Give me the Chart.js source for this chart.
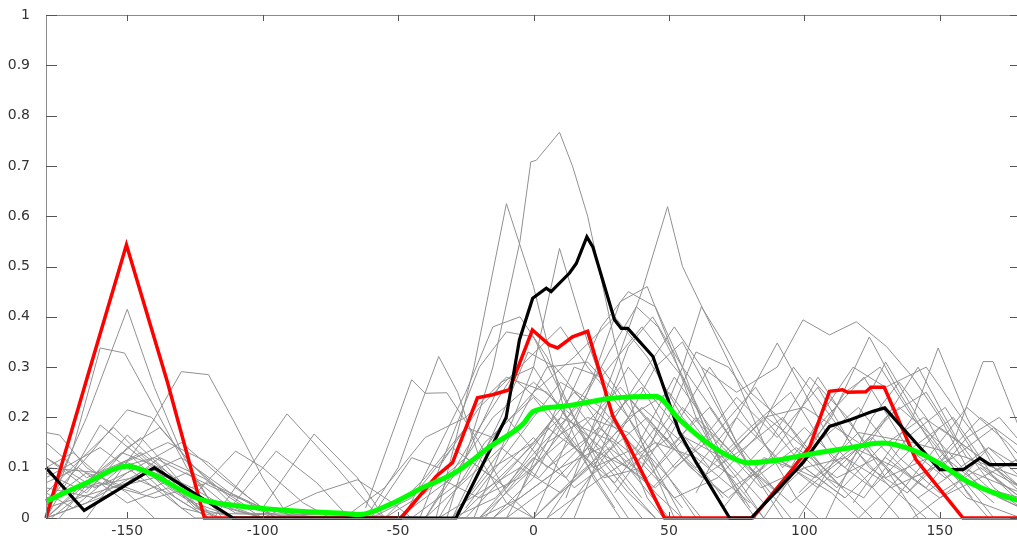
<!DOCTYPE html>
<html>
<head>
<meta charset="utf-8">
<script src="https://cdn.jsdelivr.net/npm/chart.js@4/dist/chart.umd.min.js"></script>
<style>
  html, body { margin: 0; padding: 0; background: #fff; overflow: hidden; }
  canvas { display: block; }
</style>
</head>
<body>
<canvas id="profiles" width="1030" height="540"></canvas>
<script>
// tick positions
const xTicks = [-150, -100, -50, 0, 50, 100, 150];
const yTicks = [0, 0.1, 0.2, 0.3, 0.4, 0.5, 0.6, 0.7, 0.8, 0.9, 1];

// thick curves
const redX = [-180, -164.8, -150.3, -135.2, -121.5, -48.9, -35.9, -29.9, -20.7, -15.1, -8.9, -0.4, 5.9, 8.9, 14.4, 20, 26.7, 29.3, 34.1, 48.4, 80.9, 94.6, 102, 109.3, 114.1, 116, 122.7, 124.6, 129.5, 141.2, 158.6, 180];
const redY = [0, 0.279, 0.543, 0.271, 0, 0, 0.083, 0.11, 0.239, 0.245, 0.255, 0.374, 0.344, 0.338, 0.36, 0.371, 0.249, 0.202, 0.156, 0, 0, 0.09, 0.142, 0.252, 0.255, 0.25, 0.251, 0.26, 0.26, 0.116, 0, 0];

const blackX = [-180, -165.9, -140, -111, -28.6, -10.1, -5.2, -0.3, 4.7, 6.5, 13.3, 15.8, 19.7, 21.9, 29.9, 32.4, 34.8, 44.1, 53.9, 60.1, 72.4, 80.4, 99.5, 109.3, 116.7, 125.3, 129.7, 150, 158.6, 164.8, 168.5, 180];
const blackY = [0.1, 0.015, 0.1, 0, 0, 0.2, 0.354, 0.437, 0.457, 0.45, 0.487, 0.506, 0.559, 0.539, 0.394, 0.377, 0.377, 0.321, 0.17, 0.11, 0, 0, 0.11, 0.182, 0.195, 0.212, 0.219, 0.096, 0.096, 0.119, 0.106, 0.106];

const greenX = [-180, -165, -150, -140, -130, -123, -117, -100, -85, -72, -64, -53, -41, -29, -16, -4, 0, 11, 29, 45, 54, 62.5, 72, 79, 90, 98, 115, 129, 141, 150, 160, 170, 180];
const greenY = [0.033, 0.07, 0.103, 0.085, 0.055, 0.037, 0.03, 0.019, 0.013, 0.01, 0.007, 0.027, 0.06, 0.09, 0.142, 0.186, 0.212, 0.222, 0.238, 0.242, 0.195, 0.156, 0.123, 0.11, 0.115, 0.123, 0.138, 0.149, 0.133, 0.108, 0.073, 0.05, 0.033];

// thin gray traces, [x, y] vertices
const grayTraces = [
  [[-180,0.02],[-165,0.2],[-150,0.415],[-140,0.26],[-130,0.13],[-118,0.02],[-110,0]],
  [[-180,0],[-170,0.14],[-160,0.338],[-151,0.328],[-140,0.22],[-128,0.1],[-115,0]],
  [[-165,0],[-145,0.15],[-130,0.291],[-120,0.285],[-111,0.196],[-100,0.08],[-90,0]],
  [[-180,0.03],[-165,0.12],[-150,0.215],[-141,0.2],[-125,0.1],[-110,0.02],[-100,0]],
  [[-180,0],[-160,0.185],[-145,0.12],[-130,0.05],[-120,0]],
  [[-180,0.17],[-175,0.165],[-165,0.1],[-150,0.05],[-140,0]],
  [[-118,0],[-91,0.207],[-72,0.096],[-60,0.02],[-55,0]],
  [[-100,0.02],[-81,0.167],[-65,0.08],[-55,0]],
  [[-112,0.02],[-95,0.133],[-80,0.07],[-68,0]],
  [[-128,0.03],[-110,0.133],[-100,0.1],[-85,0.03],[-75,0]],
  [[-180,0.05],[-155,0.18],[-140,0.1],[-125,0.02],[-115,0]],
  [[-175,0],[-150,0.165],[-135,0.09],[-120,0]],
  [[-172,0.05],[-145,0.13],[-125,0.05],[-110,0]],
  [[-180,0.1],[-160,0.09],[-140,0.12],[-118,0.06],[-100,0.02]],
  [[-178,0],[-155,0.1],[-135,0.15],[-120,0.11],[-105,0.04],[-95,0]],
  [[-180,0.12],[-165,0.06],[-148,0.08],[-135,0.05],[-120,0]],
  [[-100,0],[-80,0.05],[-65,0.076],[-52,0.03],[-45,0]],
  [[-32,0],[-15,0.3],[-5,0.55],[-1,0.708],[1,0.711],[9.6,0.767],[14.5,0.698],[20,0.6],[30,0.35],[40,0.15],[52,0]],
  [[-36,0],[-22,0.3],[-10,0.625],[0,0.46],[5,0.35],[12,0.2],[22,0.08],[32,0]],
  [[12,0.04],[30,0.3],[40,0.45],[49.5,0.619],[55,0.5],[61,0.433],[73,0.3],[85,0.15],[97,0.04],[105,0]],
  [[-22,0],[0,0.3],[9.6,0.536],[20,0.35],[30,0.2],[42,0.04],[48,0]],
  [[-62,0],[-50,0.1],[-42,0.22],[-35,0.321],[-28,0.25],[-20,0.12],[-10,0.03],[0,0]],
  [[-62,0.02],[-45,0.275],[-40,0.248],[-32,0.249],[-20,0.15],[-10,0.05],[0,0]],
  [[-48,0],[-25,0.25],[-15,0.38],[-5,0.4],[5,0.32],[15,0.2],[25,0.08],[35,0]],
  [[-42,0],[-20,0.3],[-10,0.37],[0,0.36],[10,0.25],[25,0.1],[40,0]],
  [[-10,0],[10,0.2],[25,0.38],[35,0.45],[45,0.42],[55,0.3],[65,0.15],[78,0.03]],
  [[0,0],[20,0.25],[32,0.43],[42,0.46],[50,0.35],[60,0.2],[75,0.05],[82,0]],
  [[-5,0.05],[15,0.3],[25,0.28],[40,0.38],[55,0.28],[70,0.1],[80,0.02]],
  [[-30,0],[-10,0.15],[5,0.3],[20,0.31],[30,0.25],[45,0.1],[55,0]],
  [[-25,0.02],[0,0.2],[10,0.27],[25,0.22],[40,0.12],[55,0.02]],
  [[-28,0],[-5,0.12],[10,0.2],[30,0.15],[45,0.05],[55,0]],
  [[0,0],[20,0.1],[35,0.2],[50,0.25],[60,0.18],[75,0.08],[85,0]],
  [[10,0],[30,0.15],[45,0.3],[55,0.35],[65,0.25],[80,0.1],[92,0]],
  [[-18,0],[5,0.15],[20,0.2],[35,0.17],[50,0.08],[62,0]],
  [[-40,0],[-20,0.18],[-8,0.28],[5,0.22],[18,0.12],[30,0.02]],
  [[-15,0],[10,0.1],[25,0.14],[40,0.22],[55,0.15],[70,0.04]],
  [[5,0],[25,0.08],[45,0.15],[60,0.12],[80,0.03]],
  [[-50,0],[-30,0.08],[-15,0.2],[0,0.27],[15,0.2],[35,0.06],[45,0]],
  [[-20,0],[0,0.1],[15,0.2],[28,0.33],[38,0.42],[46,0.38],[58,0.25],[70,0.12],[85,0.03]],
  [[-30,0],[-12,0.2],[-2,0.33],[8,0.3],[20,0.22],[35,0.1],[50,0]],
  [[5,0],[20,0.12],[35,0.34],[44,0.4],[55,0.3],[68,0.2],[80,0.1],[95,0]],
  [[-40,0],[-25,0.12],[-12,0.27],[0,0.3],[12,0.2],[25,0.14],[40,0.04]],
  [[15,0],[30,0.2],[42,0.3],[52,0.38],[62,0.3],[75,0.15],[90,0.05]],
  [[-70,0],[-55,0.06],[-40,0.16],[-25,0.2],[-10,0.28],[5,0.25],[20,0.15],[35,0.05],[45,0]],
  [[-60,0],[-45,0.12],[-35,0.1],[-20,0.22],[-5,0.3],[10,0.38],[20,0.3],[35,0.2],[50,0.08],[60,0]],
  [[-55,0],[-40,0.08],[-25,0.18],[-15,0.16],[0,0.25],[15,0.32],[30,0.4],[42,0.32],[55,0.2],[70,0.1],[85,0]],
  [[40,0.1],[55,0.3],[62,0.42],[70,0.35],[80,0.25],[95,0.18],[110,0.08],[125,0]],
  [[30,0.05],[50,0.2],[60,0.33],[72,0.3],[85,0.2],[100,0.1],[115,0.04]],
  [[62,0.3],[75,0.25],[90,0.3],[99.5,0.394],[109.3,0.364],[119.2,0.39],[130.3,0.341],[140,0.28],[150,0.2],[160,0.1],[172,0.04],[180,0.02]],
  [[60,0.05],[75,0.2],[90,0.348],[100,0.25],[110,0.15],[122,0.08],[135,0]],
  [[118,0.03],[140,0.2],[149.4,0.338],[160,0.2],[170,0.1],[180,0.05]],
  [[138,0.05],[155,0.15],[166,0.311],[169.7,0.311],[180,0.17]],
  [[88,0.05],[110,0.2],[124,0.36],[135,0.25],[150,0.12],[162,0.04]],
  [[98,0],[115,0.15],[130,0.31],[142,0.2],[155,0.1],[170,0]],
  [[78,0.05],[95,0.18],[105,0.28],[115,0.2],[130,0.1],[142,0]],
  [[128,0],[150,0.15],[160,0.22],[175,0.15],[180,0.12]],
  [[68,0.1],[85,0.2],[100,0.22],[120,0.15],[140,0.05],[150,0]],
  [[108,0],[125,0.2],[135,0.27],[145,0.2],[160,0.05],[168,0]],
  [[98,0.05],[120,0.17],[140,0.15],[160,0.12],[180,0.08]],
  [[70,0.02],[85,0.12],[95,0.1],[110,0.05],[120,0]],
  [[120,0],[135,0.08],[150,0.18],[165,0.12],[180,0.06]],
  [[80,0],[100,0.1],[115,0.12],[130,0.07],[145,0]],
  [[140,0],[155,0.06],[168,0.14],[180,0.1]],
  [[85,0],[100,0.12],[115,0.25],[128,0.3],[140,0.2],[155,0.1],[170,0.03]],
  [[95,0.1],[108,0.22],[118,0.3],[130,0.26],[145,0.3],[158,0.2],[172,0.1],[180,0.06]],
  // low full-width traces
  [[-180,0.08],[-160,0.14],[-140,0.06],[-125,0],[-30,0],[-15,0.1],[0,0.15],[15,0.25],[30,0.18],[45,0.1],[60,0.2],[75,0.12],[90,0.05],[105,0.15],[120,0.22],[135,0.12],[150,0.05],[165,0.1],[180,0.04]],
  [[-180,0],[-158,0.1],[-145,0.16],[-130,0.07],[-118,0],[-45,0],[-25,0.08],[-10,0.2],[5,0.1],[20,0.16],[35,0.3],[50,0.2],[65,0.1],[80,0.18],[95,0.25],[110,0.12],[125,0.06],[140,0.14],[155,0.2],[170,0.08],[180,0.03]],
  [[-180,0.05],[-170,0.02],[-150,0.11],[-135,0.08],[-120,0.03],[-100,0],[-20,0],[0,0.12],[12,0.08],[28,0.2],[40,0.26],[55,0.12],[70,0.05],[85,0.1],[100,0.18],[115,0.1],[130,0.2],[145,0.25],[160,0.12],[180,0.06]],
  [[-180,0.02],[-150,0.07],[-130,0.12],[-112,0.05],[-95,0],[-35,0],[-18,0.15],[0,0.24],[15,0.14],[30,0.07],[45,0.18],[60,0.1],[75,0.2],[90,0.12],[105,0.06],[120,0.14],[135,0.22],[150,0.15],[165,0.06],[180,0.02]],
  [[-180,0.15],[-165,0.08],[-148,0.12],[-132,0.04],[-120,0],[-55,0],[-40,0.05],[-25,0.12],[-10,0.06],[5,0.18],[20,0.12],[35,0.24],[50,0.14],[65,0.22],[80,0.1],[95,0.03],[110,0.1],[125,0.16],[140,0.08],[155,0.12],[170,0.18],[180,0.1]],
  [[-180,0.06],[-162,0.04],[-142,0.1],[-126,0.06],[-110,0.01],[-25,0],[-8,0.1],[8,0.2],[22,0.1],[38,0.14],[52,0.28],[68,0.16],[82,0.08],[97,0.14],[112,0.08],[127,0.12],[142,0.04],[158,0.1],[180,0.05]],
  [[-180,0],[-168,0.06],[-152,0.13],[-138,0.1],[-124,0.02],[-110,0],[-10,0],[5,0.06],[20,0.14],[35,0.1],[50,0.16],[65,0.3],[78,0.2],[92,0.1],[108,0.2],[122,0.28],[138,0.14],[152,0.08],[168,0.14],[180,0.08]],
  [[-180,0.1],[-170,0.13],[-155,0.06],[-140,0.08],[-125,0.03],[-110,0],[-40,0],[-28,0.06],[-12,0.14],[2,0.08],[18,0.18],[32,0.26],[48,0.16],[62,0.08],[78,0.14],[92,0.2],[108,0.08],[122,0.04],[138,0.16],[152,0.22],[166,0.1],[180,0.04]],
  [[-180,0.03],[-165,0.09],[-145,0.05],[-128,0.09],[-112,0.02],[-100,0],[-15,0],[0,0.08],[10,0.18],[25,0.3],[38,0.2],[52,0.1],[66,0.16],[82,0.26],[96,0.14],[112,0.06],[128,0.18],[142,0.3],[156,0.16],[170,0.06],[180,0.02]],
  [[-180,0],[-155,0.05],[-138,0.12],[-122,0.08],[-105,0.02],[-90,0],[-35,0],[-20,0.05],[-5,0.1],[10,0.05],[25,0.12],[42,0.2],[58,0.1],[72,0.04],[88,0.12],[104,0.08],[118,0.14],[132,0.06],[148,0.1],[165,0.2],[180,0.14]],
  [[-180,0.07],[-168,0.1],[-150,0.03],[-135,0.06],[-120,0.01],[-60,0],[-45,0.04],[-30,0.14],[-15,0.08],[0,0.16],[15,0.06],[30,0.12],[45,0.06],[60,0.14],[75,0.24],[90,0.16],[105,0.26],[118,0.14],[134,0.1],[150,0.04],[165,0.08],[180,0.12]],
  [[-180,0.12],[-162,0.06],[-146,0.1],[-130,0.02],[-115,0],[-30,0],[-14,0.04],[2,0.14],[16,0.22],[30,0.12],[44,0.06],[58,0.14],[74,0.08],[88,0.16],[102,0.28],[116,0.2],[130,0.08],[146,0.12],[160,0.04],[180,0]],
  [[-180,0],[-165,0.03],[-150,0.09],[-130,0.15],[-115,0.08],[-100,0.02],[-85,0],[0,0],[15,0.08],[28,0.14],[42,0.08],[56,0.16],[70,0.12],[86,0.2],[100,0.14],[114,0.06],[128,0.14],[144,0.2],[160,0.14],[180,0.06]],
  [[-180,0.04],[-160,0.07],[-140,0.04],[-120,0.07],[-100,0.02],[-80,0],[-50,0],[-35,0.08],[-20,0.04],[-5,0.08],[12,0.16],[26,0.08],[40,0.1],[55,0.22],[70,0.14],[84,0.06],[100,0.1],[115,0.04],[130,0.12],[145,0.06],[160,0.16],[172,0.2],[180,0.15]],
  [[-180,0.09],[-165,0.05],[-150,0.14],[-138,0.18],[-125,0.1],[-112,0.04],[-100,0],[-20,0],[-5,0.04],[10,0.1],[24,0.18],[38,0.12],[52,0.04],[68,0.08],[82,0.16],[96,0.3],[110,0.2],[124,0.1],[138,0.05],[152,0.12],[166,0.06],[180,0.04]]
];

const toPoints = (xs, ys) => xs.map((x, i) => ({ x: x, y: ys[i] }));

const datasets = [
  { data: toPoints(greenX, greenY), borderColor: '#00ff00', borderWidth: 5, cubicInterpolationMode: 'monotone', clip: 4, order: 0 },
  { data: toPoints(blackX, blackY), borderColor: '#000000', borderWidth: 3.2, clip: 4, order: 1 },
  { data: toPoints(redX, redY), borderColor: '#ff0000', borderWidth: 3.5, clip: 4, order: 2 }
];
grayTraces.forEach(t => {
  datasets.push({
    data: t.map(p => ({ x: p[0], y: p[1] })),
    borderColor: 'rgb(145,145,145)',
    borderWidth: 1,
    order: 3
  });
});

// box and inward ticks, matlab style
const frame = {
  id: 'frame',
  afterDraw(chart) {
    const { ctx, chartArea: a, scales: { x, y } } = chart;
    ctx.save();
    ctx.strokeStyle = '#8a8a8a';
    ctx.lineWidth = 1;
    ctx.strokeRect(a.left + 0.5, a.top + 0.5, a.right - a.left, a.bottom - a.top);
    ctx.strokeStyle = '#555';
    ctx.beginPath();
    xTicks.forEach(v => {
      const px = Math.round(x.getPixelForValue(v)) + 0.5;
      ctx.moveTo(px, a.bottom); ctx.lineTo(px, a.bottom - 6);
      ctx.moveTo(px, a.top); ctx.lineTo(px, a.top + 6);
    });
    yTicks.forEach(v => {
      const py = Math.round(y.getPixelForValue(v)) + 0.5;
      ctx.moveTo(a.left, py); ctx.lineTo(a.left + 11, py);
      ctx.moveTo(a.right, py); ctx.lineTo(a.right - 11, py);
    });
    ctx.stroke();
    ctx.restore();
  }
};

const tickFont = { family: 'DejaVu Sans, sans-serif', size: 14 };

new Chart(document.getElementById('profiles'), {
  type: 'line',
  data: { datasets: datasets },
  options: {
    responsive: false,
    devicePixelRatio: 1,
    animation: false,
    layout: { autoPadding: false, padding: { top: 15, right: 9, left: 0, bottom: 0 } },
    elements: { point: { radius: 0 }, line: { tension: 0 } },
    plugins: { legend: { display: false }, tooltip: { enabled: false } },
    scales: {
      x: {
        type: 'linear', min: -180, max: 180,
        afterBuildTicks: s => { s.ticks = xTicks.map(v => ({ value: v })); },
        afterFit: s => { s.height = 22; },
        grid: { display: true, color: 'rgba(0,0,0,0)', drawOnChartArea: false, tickLength: 5 },
        border: { display: false },
        ticks: { font: tickFont, color: '#333', padding: 0, maxRotation: 0, autoSkip: false }
      },
      y: {
        min: 0, max: 1,
        afterBuildTicks: s => { s.ticks = yTicks.map(v => ({ value: v })); },
        afterFit: s => { s.width = 46; },
        grid: { display: true, color: 'rgba(0,0,0,0)', drawOnChartArea: false, tickLength: 16 },
        border: { display: false },
        ticks: { font: tickFont, color: '#333', padding: 0, callback: v => String(+v.toFixed(1)) }
      }
    }
  },
  plugins: [frame]
});
</script>
</body>
</html>
